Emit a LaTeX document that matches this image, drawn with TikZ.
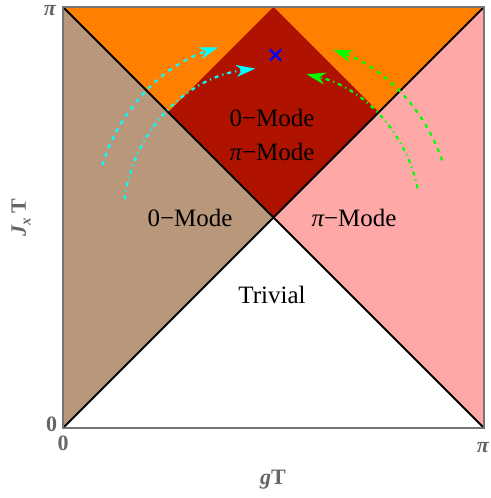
\documentclass[tikz,border=0pt]{standalone}
\usepackage{fontspec}
\setmainfont{Liberation Serif}
\usetikzlibrary{arrows.meta,calc}
\definecolor{tanc}{RGB}{185,151,122}
\definecolor{orangec}{RGB}{255,128,0}
\definecolor{pinkc}{RGB}{255,168,168}
\definecolor{darkredc}{RGB}{176,18,0}
\definecolor{axisgray}{RGB}{102,102,102}
\definecolor{cyanc}{RGB}{0,255,255}
\definecolor{greenc}{RGB}{0,255,0}
\tikzset{
  region/.style={draw=none},
  diag/.style={line width=2pt, black},
  frame/.style={line width=2pt, draw=axisgray!90!white},
  lbl/.style={font=\fontsize{25}{30}\selectfont, text=black, anchor=base, inner sep=0pt},
  axlbl/.style={font=\fontsize{22}{26}\selectfont\bfseries, text=axisgray, inner sep=0pt},
  ticklbl/.style={font=\fontsize{22}{26}\selectfont\bfseries, text=axisgray, inner sep=0pt},
  flowdash/.style={line width=2.2pt, dash pattern=on 4pt off 5pt, -{Stealth[length=19pt,width=12pt,inset=6pt]}},
  flowdashdot/.style={line width=2.2pt, dash pattern=on 4pt off 4pt on 1.2pt off 4pt, -{Stealth[length=19pt,width=12pt,inset=6pt]}},
}
\begin{document}
\begin{tikzpicture}[x=1pt,y=1pt]
\useasboundingbox (0,0) rectangle (490,498);
% corners
\coordinate (BL) at (63,70);
\coordinate (BR) at (484,70);
\coordinate (TL) at (63,491);
\coordinate (TR) at (484,491);
\coordinate (C) at (273.5,280.5);
\coordinate (DL) at (168.25,385.75);
\coordinate (DR) at (378.75,385.75);
\coordinate (DT) at (273.5,491);
% regions
\fill[region, white] (BL) -- (BR) -- (C) -- cycle;
\fill[region, tanc] (BL) -- (TL) -- (C) -- cycle;
\fill[region, pinkc] (BR) -- (TR) -- (C) -- cycle;
\fill[region, orangec] (TL) -- (TR) -- (C) -- cycle;
\fill[region, darkredc] (C) -- (DL) -- (DT) -- (DR) -- cycle;
% diagonals
\draw[diag] (BL) -- (TR);
\draw[diag] (BR) -- (TL);
% frame
\draw[frame] (BL) rectangle (TR);
% flow arrows
\begin{scope}[shift={(C)}]
\draw[flowdash, cyanc] (163:179) arc[start angle=163, end angle=108, radius=179];
\draw[flowdashdot, cyanc] (173:150) arc[start angle=173, end angle=97, radius=150];
\draw[flowdash, greenc] (18.7:178) arc[start angle=18.7, end angle=70.4, radius=178];
\draw[flowdashdot, greenc] (11.5:147) arc[start angle=11.5, end angle=77, radius=147];
\end{scope}
% blue cross
\coordinate (X) at (275.5,443);
\draw[blue, line width=2.2pt] ($(X)+(-5.5,-5.5)$) -- ($(X)+(5.5,5.5)$);
\draw[blue, line width=2.2pt] ($(X)+(-5.5,5.5)$) -- ($(X)+(5.5,-5.5)$);
% labels
\node[lbl] (l1) at (272,371) {0−Mode};
\node[lbl] (l2) at (272,337) {{\itshape π}−Mode};
\node[lbl] (l3) at (190,271) {0−Mode};
\node[lbl] (l4) at (354,271) {{\itshape π}−Mode};
\node[lbl] (l5) at (272,194) {Trivial};
% axis labels
\node[axlbl, rotate=90] (ylab) at (21,280) {\textit{J}\raisebox{-0.22em}{\fontsize{15}{18}\selectfont\textit{x}}\,T};
\node[axlbl, anchor=base] (xlab) at (273,13) {\textit{g}T};
% ticks
\node[ticklbl] (t1) at (50,487) {\textit{π}};
\node[ticklbl] (t2) at (51.5,74) {0};
\node[ticklbl] (t3) at (63,55) {0};
\node[ticklbl] (t4) at (483,50) {\textit{π}};
\end{tikzpicture}
\end{document}
